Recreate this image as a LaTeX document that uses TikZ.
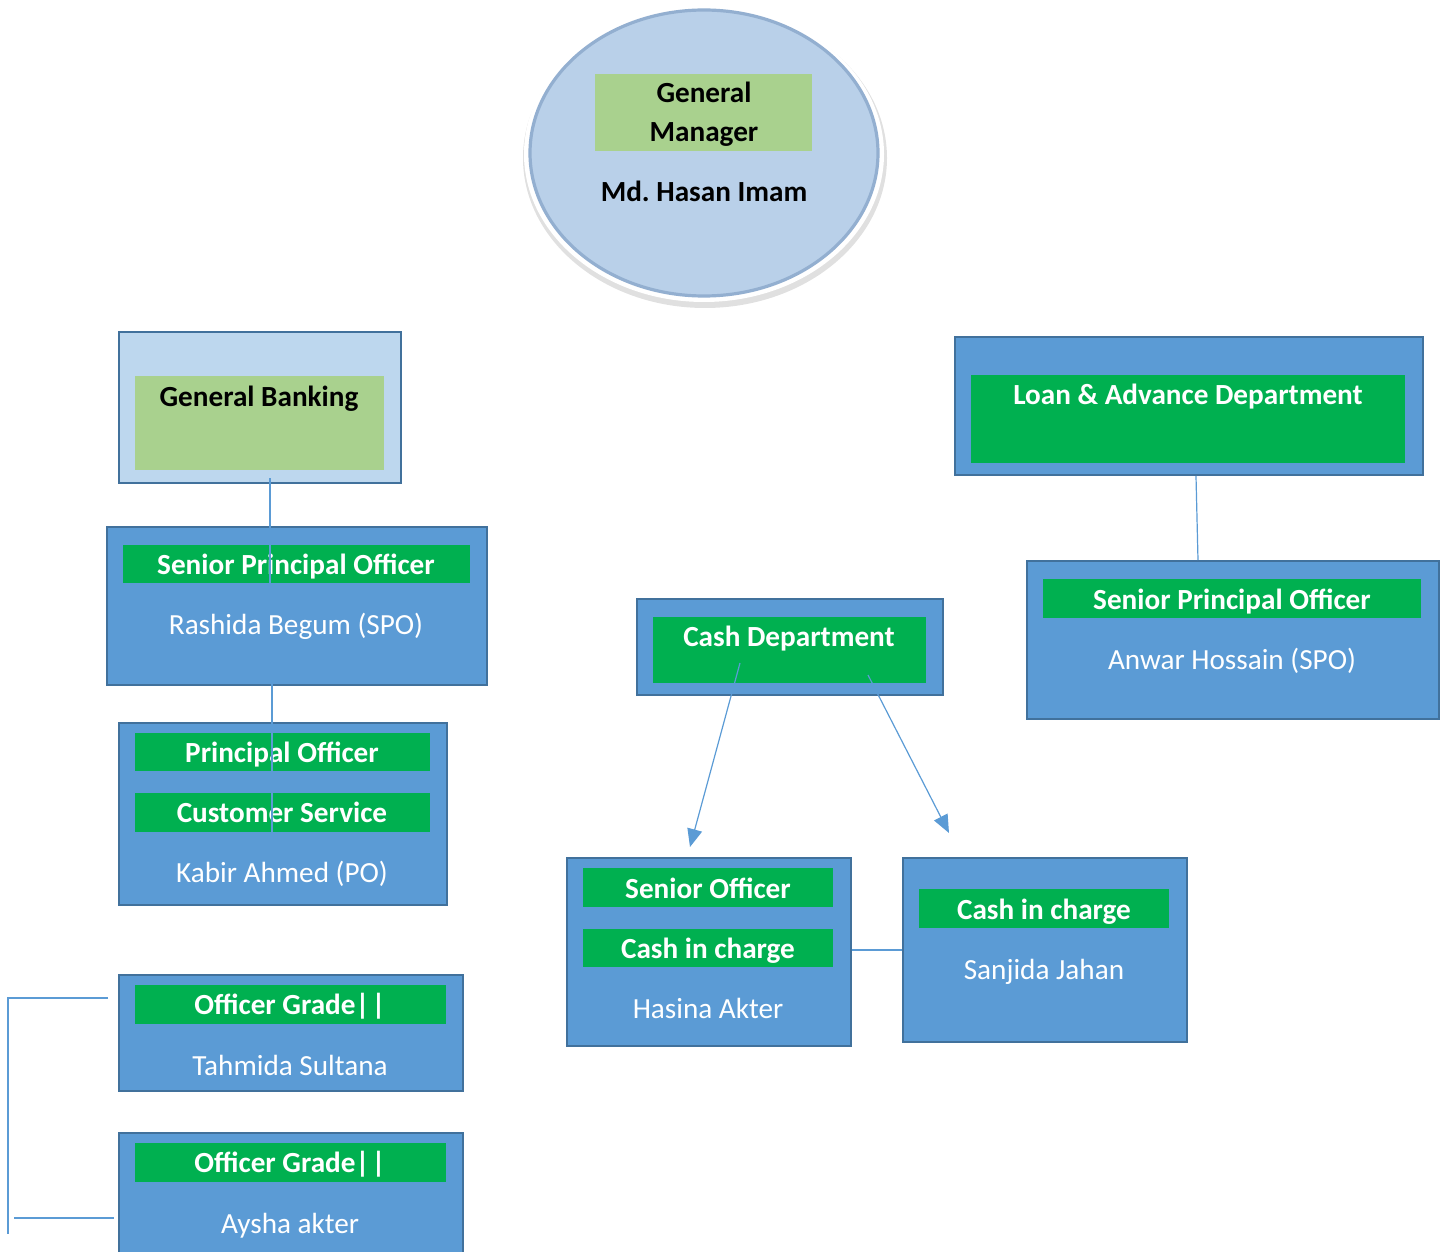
\documentclass[tikz,border=0pt]{standalone}
\usepackage{fontspec}
\setmainfont{Carlito}
\usetikzlibrary{shapes.geometric,arrows.meta}
\definecolor{boxblue}{HTML}{5B9BD5}
\definecolor{boxedge}{HTML}{41719C}
\definecolor{bargreen}{HTML}{00B050}
\definecolor{lightgreen}{HTML}{A9D18E}
\definecolor{lightblue}{HTML}{BDD7EE}
\definecolor{ellfill}{HTML}{B9D0E9}
\definecolor{elledge}{HTML}{93AFD0}
\frenchspacing
\begin{document}
\begin{tikzpicture}[x=0.5pt,y=-0.5pt,
  box/.style={draw=boxedge, line width=1.1pt, fill=boxblue, anchor=north west, inner sep=0pt},
  lbox/.style={draw=boxedge, line width=1.1pt, fill=lightblue, anchor=north west, inner sep=0pt},
  bar/.style={fill=bargreen, anchor=north west, inner sep=0pt},
  lbar/.style={fill=lightgreen, anchor=north west, inner sep=0pt},
  ttl/.style={font=\bfseries\fontsize{14.6}{16}\selectfont, text=white, inner sep=0pt, anchor=mid, yshift=-1.5pt},
  btl/.style={font=\bfseries\fontsize{14.6}{16}\selectfont, text=black, inner sep=0pt, anchor=mid, yshift=-1.5pt},
  nm/.style={font=\fontsize{14.6}{16}\selectfont, text=white, inner sep=0pt, anchor=mid, yshift=-1.5pt},
  conn/.style={draw=boxblue, line width=0.6pt},
  arr/.style={draw=boxblue, line width=0.6pt, -{Triangle[length=9pt,width=7.5pt]}},
]
\useasboundingbox (0,0) rectangle (1447,1252);

% General Manager ellipse
\node[ellipse, fill=black!12, minimum width=182pt, minimum height=150pt, inner sep=0pt] (gmshadow) at (705,158) {};
\node[ellipse, fill=white, minimum width=180pt, minimum height=148pt, inner sep=0pt] (gmglow) at (704,154) {};
\node[ellipse, fill=ellfill, draw=elledge, line width=1.6pt, minimum width=174pt, minimum height=143pt, inner sep=0pt] (gm) at (704,153) {};
\node[lbar, minimum width=108.5pt, minimum height=38.5pt] (gmbar) at (595,74) {};
\node[btl] (gmt1) at (704,95) {General};
\node[btl] (gmt2) at (704,134) {Manager};
\node[btl] (gmname) at (704,194) {Md. Hasan Imam};

% General Banking
\node[lbox, minimum width=141pt, minimum height=75.5pt] (gb) at (118,331) {};
\node[lbar, minimum width=124.5pt, minimum height=47pt] (gbbar) at (135,376) {};
\node[btl] (gbt) at (259,399) {General Banking};

% Senior Principal Officer (left)
\node[box, minimum width=190pt, minimum height=79pt] (spo1) at (106,526) {};
\node[bar, minimum width=173.5pt, minimum height=19pt] (spo1bar) at (123,545) {};
\node[ttl] (spo1t) at (296,567) {Senior Principal Officer};
\node[nm] (spo1n) at (296,627) {Rashida Begum (SPO)};

% Principal Officer
\node[box, minimum width=164pt, minimum height=91pt] (po) at (118,722) {};
\node[bar, minimum width=147.5pt, minimum height=19pt] (pobar1) at (135,733) {};
\node[bar, minimum width=147.5pt, minimum height=19.5pt] (pobar2) at (135,793) {};
\node[ttl] (pot1) at (282,755) {Principal Officer};
\node[ttl] (pot2) at (282,815) {Customer Service};
\node[nm] (pon) at (282,875) {Kabir Ahmed (PO)};

% Officer Grade boxes
\node[box, minimum width=172pt, minimum height=58pt] (og1) at (118,974) {};
\node[bar, minimum width=155.5pt, minimum height=19.5pt] (og1bar) at (135,985) {};
\node[ttl] (og1t) at (290,1007) {Officer Grade|\kern0.08em|};
\node[nm] (og1n) at (290,1068) {Tahmida Sultana};

\node[box, minimum width=172pt, minimum height=66pt] (og2) at (118,1132) {};
\node[bar, minimum width=155.5pt, minimum height=19.5pt] (og2bar) at (135,1143) {};
\node[ttl] (og2t) at (290,1165) {Officer Grade|\kern0.08em|};
\node[nm] (og2n) at (290,1226) {Aysha akter};

% Cash Department
\node[box, minimum width=153pt, minimum height=48pt] (cash) at (636,598) {};
\node[bar, minimum width=136.5pt, minimum height=33pt] (cashbar) at (653,617) {};
\node[ttl] (casht) at (789,639) {Cash Department};

% Senior Officer
\node[box, minimum width=142pt, minimum height=94pt] (so) at (566,857) {};
\node[bar, minimum width=125pt, minimum height=19.5pt] (sobar1) at (583,868) {};
\node[bar, minimum width=125pt, minimum height=19pt] (sobar2) at (583,929) {};
\node[ttl] (sot1) at (708,891) {Senior Officer};
\node[ttl] (sot2) at (708,951) {Cash in charge};
\node[nm] (son) at (708,1011) {Hasina Akter};

% Cash in charge
\node[box, minimum width=142pt, minimum height=92pt] (cic) at (902,857) {};
\node[bar, minimum width=125pt, minimum height=19.5pt] (cicbar) at (919,889) {};
\node[ttl] (cict) at (1044,912) {Cash in charge};
\node[nm] (cicn) at (1044,972) {Sanjida Jahan};

% Loan & Advance
\node[box, minimum width=234pt, minimum height=69pt] (loan) at (954,336) {};
\node[bar, minimum width=217pt, minimum height=44pt] (loanbar) at (971,375) {};
\node[ttl] (loant) at (1188,397) {Loan \& Advance Department};

% Senior Principal Officer (right)
\node[box, minimum width=206pt, minimum height=79pt] (spo2) at (1026,560) {};
\node[bar, minimum width=189pt, minimum height=19.5pt] (spo2bar) at (1043,579) {};
\node[ttl] (spo2t) at (1232,602) {Senior Principal Officer};
\node[nm] (spo2n) at (1232,662) {Anwar Hossain (SPO)};

% connectors
\coordinate (c1a) at (270,478);
\coordinate (c1b) at (270,583);
\draw[conn] (c1a) -- (c1b);
\coordinate (c2a) at (272,684);
\coordinate (c2b) at (272,832);
\draw[conn] (c2a) -- (c2b);

\coordinate (c3a) at (1196,476);
\coordinate (c3b) at (1198,560);
\draw[conn] (c3a) -- (c3b);

\coordinate (a1s) at (740,663);
\coordinate (a1e) at (690,847);
\draw[arr] (a1s) -- (a1e);
\coordinate (a2s) at (868,675);
\coordinate (a2e) at (949,833);
\draw[arr] (a2s) -- (a2e);

\draw[conn] (so.east |- 0,950) -- (cic.west |- 0,950);

\coordinate (b1) at (108,998);
\coordinate (b2) at (8,998);
\coordinate (b3) at (8,1234);
\draw[conn] (b1) -- (b2) -- (b3);
\coordinate (b4) at (14,1218);
\coordinate (b5) at (114,1218);
\draw[conn] (b4) -- (b5);
\end{tikzpicture}
\end{document}
